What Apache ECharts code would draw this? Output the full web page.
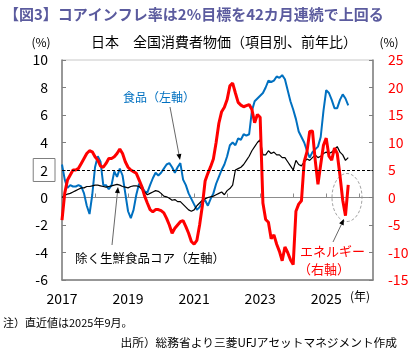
<!DOCTYPE html>
<html>
<head>
<meta charset="utf-8">
<title>CPI</title>
<script src="https://cdn.jsdelivr.net/npm/echarts@6/dist/echarts.min.js"></script>
<style>
    html, body { margin: 0; padding: 0; background: #fff; }
    #main { width: 417px; height: 350px; }
</style>
</head>
<body>
<div id="main"></div>
<script>
    // 2017-01 .. 2026-06 (軸の範囲)
    var months = [];
    for (var y = 2017; y <= 2026; y++) {
        for (var m = 1; m <= 12; m++) {
            if (y === 2026 && m > 6) break;
            months.push(y + '-' + (m < 10 ? '0' + m : m));
        }
    }

    // 除く生鮮食品コア（左軸） 2017-01 .. 2025-09
    var core = [
        0.0, 0.15, 0.25, 0.3, 0.4, 0.5, 0.6, 0.7, 0.7, 0.8, 0.8, 0.85,
        0.9, 0.9, 0.85, 0.8, 0.75, 0.8, 0.85, 0.9, 0.95, 0.9, 0.8, 0.75,
        0.7, 0.8, 0.85, 0.85, 0.8, 0.6, 0.4, 0.2, 0.3, 0.4, 0.5, 0.45,
        0.3, 0.1, 0.05, -0.05, -0.2, -0.15, -0.3, -0.3, -0.5, -0.7, -0.9, -1.0,
        -0.9, -0.6, -0.4, -0.2, -0.1, 0.0, 0.05, 0.1, 0.2, 0.3, 0.4, 0.2,
        0.5, 0.65, 0.9, 2.0, 2.1, 2.2, 2.4, 2.7, 3.0, 3.4, 3.7, 4.0,
        4.2, 3.1, 3.1, 3.4, 3.2, 3.3, 3.1, 3.1, 2.9, 2.9, 2.6, 2.3,
        2.0, 2.7, 2.4, 2.3, 2.6, 2.8, 2.7, 2.9, 3.1, 2.9, 3.0, 3.2,
        3.3, 3.2, 3.3, 3.5, 3.7, 3.3, 3.1, 2.7, 2.9
    ];
    // 食品（左軸）
    var food = [
        2.4, 1.3, 0.7, 0.9, 0.8, 0.8, 0.9, 0.8, 0.3, -0.6, -1.2, 0.2,
        2.2, 3.0, 2.6, 0.9, 0.9, 0.6, 0.9, 1.9, 1.5, 2.1, 1.6, 0.3,
        -1.0, -1.5, -0.9, 0.2, 1.0, 0.8, 0.45, 0.35, 0.9, 1.4, 1.8, 1.6,
        1.8, 2.1, 2.4, 2.5, 2.2, 1.8, 2.2, 2.5, 1.3, 0.9, 0.3, -0.1,
        -0.5, -0.9, -0.7, -0.3, -0.2, -0.6, -0.1, 0.3, 1.0, 1.5, 2.0, 2.4,
        3.0, 3.8, 4.0, 3.8, 4.3, 4.2, 4.6, 4.5, 4.6, 6.3, 7.0, 7.2,
        7.4, 7.6, 8.0, 8.5, 8.4, 8.5, 8.8, 8.7, 8.9, 8.6, 7.8, 7.0,
        6.4, 5.7, 4.8, 4.4, 4.0, 3.4, 2.9, 3.3, 3.5, 3.7, 4.4, 6.3,
        7.8, 7.6, 7.1, 6.5, 6.5, 7.1, 7.5, 7.2, 6.7
    ];
    // エネルギー（右軸）
    var energy = [
        -4.1, 0.8, 3.2, 4.1, 5.0, 5.0, 5.3, 6.2, 7.1, 8.0, 8.5, 8.3,
        7.4, 6.8, 5.7, 5.5, 6.2, 7.1, 7.1, 7.4, 8.0, 8.8, 8.0, 6.5,
        5.5, 5.0, 4.7, 4.4, 3.2, 2.0, 0.3, -1.0, -2.2, -2.6, -2.2, -2.2,
        -2.4, -2.8, -3.8, -5.0, -6.5, -5.6, -5.0, -4.4, -4.2, -5.3, -6.5, -8.0,
        -8.5, -7.8, -5.0, -1.5, 3.0, 4.4, 5.6, 7.0, 10.0, 13.5, 15.6, 16.4,
        17.8, 20.3, 20.8, 19.0, 17.3, 16.8, 16.5, 16.7, 16.9, 16.0, 13.6, 15.1,
        14.6, -1.0, -4.0, -4.5, -7.5, -6.8, -8.5, -9.8, -11.5, -9.0, -10.0, -11.3,
        -12.2, -2.5, -1.2, -0.6, 6.5, 8.3, 12.0, 12.1, 6.8, 2.4, 6.0, 9.5,
        10.8, 7.5, 6.8, 9.0, 8.0, 4.0, -0.5, -3.3, 2.3
    ];

    var FONT = '"Noto Sans CJK JP", "Noto Sans", sans-serif';

    // 注記の矢印
    function arrow(x1, y1, x2, y2) {
        var a = Math.atan2(y2 - y1, x2 - x1), L = 6, W = 2.5;
        var bx = x2 - L * Math.cos(a), by = y2 - L * Math.sin(a);
        return [{
            type: 'line', silent: true,
            shape: { x1: x1, y1: y1, x2: bx, y2: by },
            style: { stroke: '#404040', lineWidth: 0.8 }
        }, {
            type: 'polygon', silent: true,
            shape: { points: [[x2, y2], [bx + W * Math.sin(a), by - W * Math.cos(a)], [bx - W * Math.sin(a), by + W * Math.cos(a)]] },
            style: { fill: '#000' }
        }];
    }

    function txt(x, y, s, size, color, align, extra) {
        var st = { text: s, x: x, y: y, fontSize: size, fill: color, align: align || 'left', verticalAlign: 'middle', fontFamily: FONT };
        for (var k in (extra || {})) st[k] = extra[k];
        return { type: 'text', silent: true, style: st };
    }

    var graphics = [
        txt(4, 14, '【図3】コアインフレ率は2%目標を42カ月連続で上回る', 15, '#5b5b9e', 'left', { fontWeight: 'bold' }),
        txt(41, 42, '(%)', 12, '#000', 'center'),
        txt(224, 42, '日本　全国消費者物価（項目別、前年比）', 14, '#000', 'center'),
        txt(389, 42, '(%)', 12, '#000', 'center'),
        txt(360, 296, '(年)', 12, '#000', 'center'),
        txt(3, 323, '注）直近値は2025年9月。', 11, '#000', 'left'),
        txt(397, 343, '出所）総務省より三菱UFJアセットマネジメント作成', 11.7, '#000', 'right'),
        txt(123, 97, '食品（左軸）', 12, '#0070c0', 'left'),
        txt(75, 258, '除く生鮮食品コア（左軸）', 12.5, '#000', 'left'),
        txt(300, 251, 'エネルギー', 13, '#ff0000', 'left'),
        txt(298, 269, '（右軸）', 13, '#ff0000', 'left'),
        {
            type: 'ellipse', silent: true,
            shape: { cx: 347, cy: 197.5, rx: 15, ry: 24 },
            style: { fill: null, stroke: '#8c8c8c', lineWidth: 0.8, lineDash: [3, 2] }
        }
    ].concat(arrow(170, 107, 180, 160), arrow(112, 245, 118, 187), arrow(333, 242, 344, 219));

    var chart = echarts.init(document.getElementById('main'), null, { renderer: 'canvas' });
    chart.setOption({
        animation: false,
        textStyle: { fontFamily: FONT },
        grid: { left: 62, right: 44, top: 60, bottom: 70, show: true, borderColor: '#c8c8c8', borderWidth: 1 },
        xAxis: [{
            type: 'category', data: months, boundaryGap: false, position: 'bottom',
            axisLine: { onZero: false, lineStyle: { color: '#7f7f7f', width: 1.5 } },
            axisTick: { show: false },
            axisLabel: {
                interval: function (i) { return i % 24 === 0; },
                formatter: function (v) { return v.slice(0, 4); },
                color: '#000', fontSize: 14, margin: 12
            },
            splitLine: { show: false }
        }, {
            type: 'category', data: months, boundaryGap: false, position: 'bottom',
            axisLine: { onZero: true, onZeroAxisIndex: 0, lineStyle: { color: '#8c8c8c', width: 1.2 } },
            axisTick: { show: true, inside: true, length: 4, interval: function (i) { return i % 12 === 0; }, lineStyle: { color: '#8c8c8c' } },
            axisLabel: { show: false },
            splitLine: { show: false }
        }],
        yAxis: [{
            type: 'value', position: 'left', min: -6, max: 10, interval: 2,
            axisLine: { show: true, lineStyle: { color: '#7f7f7f', width: 1.5 } },
            axisTick: { show: true, inside: true, length: 4, lineStyle: { color: '#7f7f7f' } },
            splitLine: { show: false },
            axisLabel: {
                margin: 7, color: '#000',
                formatter: function (v) { return v === 2 ? '{box|2}' : '{n|' + v + '}'; },
                rich: {
                    n: { fontSize: 14, color: '#000', padding: [0, 7, 0, 7] },
                    box: { fontSize: 14, color: '#000', padding: [5, 7, 4, 7], borderColor: '#7f7f7f', borderWidth: 1 }
                }
            }
        }, {
            type: 'value', position: 'right', min: -15, max: 25, interval: 5,
            axisLine: { show: true, lineStyle: { color: '#7f7f7f', width: 1.5 } },
            axisTick: { show: true, inside: true, length: 4, lineStyle: { color: '#7f7f7f' } },
            splitLine: { show: false },
            axisLabel: { margin: 15, color: '#ff0000', fontSize: 14 }
        }],
        series: [{
            name: '食品（左軸）', type: 'line', data: food, yAxisIndex: 0, xAxisIndex: 0,
            symbol: 'none', lineStyle: { color: '#0070c0', width: 2 }
        }, {
            name: '除く生鮮食品コア（左軸）', type: 'line', data: core, yAxisIndex: 0, xAxisIndex: 0,
            symbol: 'none', lineStyle: { color: '#000', width: 1.2 },
            markLine: {
                silent: true, symbol: 'none', label: { show: false },
                lineStyle: { color: '#000', type: [3, 2], width: 1 },
                data: [{ yAxis: 2 }]
            }
        }, {
            name: 'エネルギー（右軸）', type: 'line', data: energy, yAxisIndex: 1, xAxisIndex: 0,
            symbol: 'none', lineStyle: { color: '#ff0000', width: 3 }
        }],
        graphic: graphics
    });
</script>
</body>
</html>
